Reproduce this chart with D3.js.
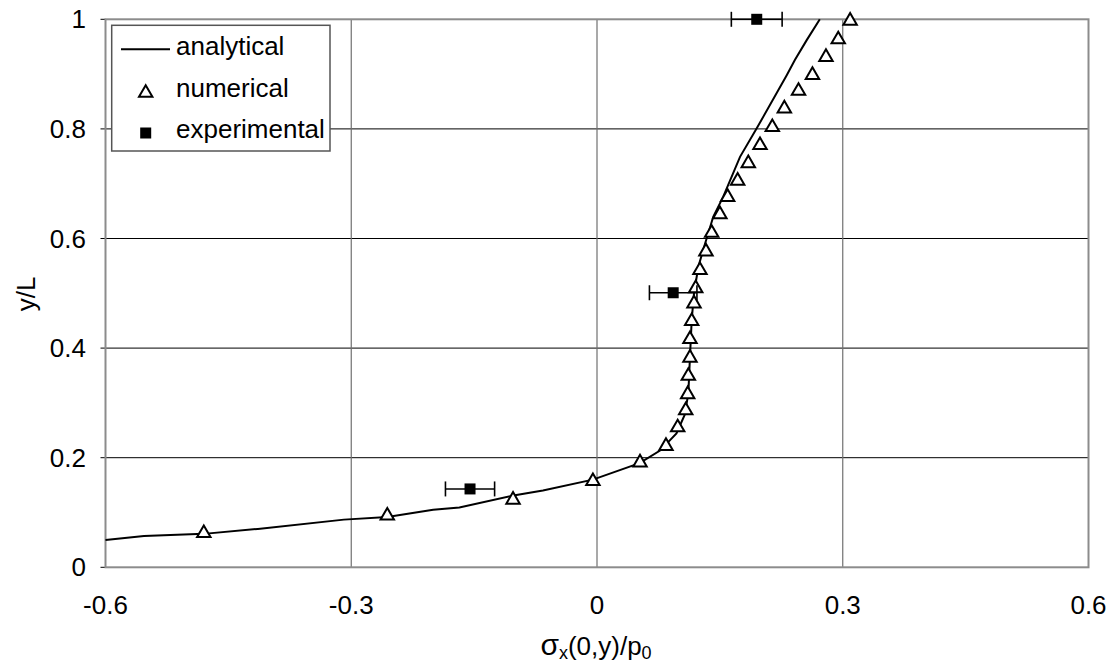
<!DOCTYPE html>
<html><head><meta charset="utf-8">
<script src="https://cdn.jsdelivr.net/npm/d3@7"></script>
<style>
html,body{margin:0;padding:0;background:#fff;}
svg text{font-family:"Liberation Sans",Arial,sans-serif;fill:#000;}
</style></head>
<body><svg id="c" width="1117" height="667"></svg>
<script>
// ---- data ----
const xTicks = [-0.6, -0.3, 0, 0.3, 0.6];
const xTickLabels = ["-0.6", "-0.3", "0", "0.3", "0.6"];
const yTicks = [0, 0.2, 0.4, 0.6, 0.8, 1];
const yTickLabels = ["0", "0.2", "0.4", "0.6", "0.8", "1"];

const analyticalX = [-0.6, -0.553, -0.48, -0.414, -0.309, -0.256, -0.2, -0.168, -0.102, -0.066, -0.005, 0.052, 0.077, 0.097, 0.107, 0.1115, 0.1135, 0.1156, 0.1184, 0.1237, 0.1318, 0.142, 0.154, 0.1746, 0.195, 0.2316, 0.2417, 0.256, 0.272];
const analyticalY = [0.050, 0.057, 0.061, 0.070, 0.087, 0.092, 0.105, 0.109, 0.131, 0.140, 0.160, 0.190, 0.213, 0.2445, 0.278, 0.3175, 0.384, 0.451, 0.500, 0.5485, 0.590, 0.640, 0.676, 0.749, 0.801, 0.898, 0.926, 0.962, 1.0];

const numericalX = [-0.48, -0.256, -0.1025, -0.005, 0.0525, 0.0842, 0.0985, 0.1083, 0.1107, 0.1115, 0.1135, 0.1135, 0.1156, 0.1184, 0.1205, 0.1257, 0.133, 0.140, 0.150, 0.1595, 0.1717, 0.1847, 0.199, 0.214, 0.2287, 0.246, 0.263, 0.2795, 0.2945, 0.309];
const numericalY = [0.064, 0.096, 0.125, 0.159, 0.193, 0.223, 0.257, 0.288, 0.3175, 0.351, 0.384, 0.418, 0.451, 0.483, 0.511, 0.544, 0.578, 0.612, 0.646, 0.6775, 0.707, 0.739, 0.772, 0.805, 0.839, 0.871, 0.900, 0.933, 0.965, 0.999];

const experimentalX = [-0.155, 0.093, 0.195];
const experimentalY = [0.143, 0.501, 1.0];
const experimentalErr = [0.03, 0.029, 0.031];

const legendLabels = ["analytical", "numerical", "experimental"];

// ---- layout ----
const svg = d3.select("#c");
const L = 105.5, R = 1088.5, T = 19.3, B = 567.3;
const x = d3.scaleLinear().domain([-0.6, 0.6]).range([L, R]);
const y = d3.scaleLinear().domain([0, 1]).range([B, T]);
const FS = 26;

// horizontal grid (black)
svg.append("g").selectAll("line").data(yTicks.slice(1, -1)).join("line")
  .attr("x1", L).attr("x2", R).attr("y1", d => y(d)).attr("y2", d => y(d))
  .attr("stroke", "#000").attr("stroke-width", 1);
// vertical grid (gray)
svg.append("g").selectAll("line").data(xTicks.slice(1, -1)).join("line")
  .attr("x1", d => x(d)).attr("x2", d => x(d)).attr("y1", T).attr("y2", B)
  .attr("stroke", "#707070").attr("stroke-width", 1.2);
// left ticks
svg.append("g").selectAll("line").data(yTicks).join("line")
  .attr("x1", L - 5).attr("x2", L).attr("y1", d => y(d)).attr("y2", d => y(d))
  .attr("stroke", "#000").attr("stroke-width", 1);
// plot border
svg.append("rect").attr("x", L).attr("y", T).attr("width", R - L).attr("height", B - T)
  .attr("fill", "none").attr("stroke", "#8c8c8c").attr("stroke-width", 2);

// tick labels
svg.append("g").selectAll("text").data(yTicks).join("text")
  .attr("x", 86).attr("y", d => y(d) + 9).attr("text-anchor", "end")
  .attr("font-size", FS).text((d, i) => yTickLabels[i]);
svg.append("g").selectAll("text").data(xTicks).join("text")
  .attr("x", d => x(d)).attr("y", 613.5).attr("text-anchor", "middle")
  .attr("font-size", FS).text((d, i) => xTickLabels[i]);

// axis titles
svg.append("text").attr("transform", "translate(35,294) rotate(-90)")
  .attr("text-anchor", "middle").attr("font-size", FS).text("y/L");
const xt = svg.append("text").attr("x", 596).attr("y", 655).attr("text-anchor", "middle").attr("font-size", FS);
xt.append("tspan").attr("font-size", 30).text("σ");
xt.append("tspan").attr("font-size", 18).attr("dy", 4).text("x");
xt.append("tspan").attr("dy", -4).text("(0,y)/p");
xt.append("tspan").attr("font-size", 18).attr("dy", 4).text("0");

// analytical line
const lineData = analyticalX.map((v, i) => [v, analyticalY[i]]);
svg.append("path").datum(lineData)
  .attr("d", d3.line().x(d => x(d[0])).y(d => y(d[1])))
  .attr("fill", "none").attr("stroke", "#000").attr("stroke-width", 2);

// triangles
const tri = d3.symbol().type(d3.symbolTriangle).size(78);
svg.append("g").selectAll("path").data(numericalX.map((v, i) => [v, numericalY[i]])).join("path")
  .attr("d", tri).attr("transform", d => `translate(${x(d[0])},${y(d[1]) + 1})`)
  .attr("fill", "#fff").attr("stroke", "#000").attr("stroke-width", 2);

// experimental with error bars
const ex = experimentalX.map((v, i) => ({ x: v, y: experimentalY[i], e: experimentalErr[i] }));
const eg = svg.append("g");
eg.selectAll("line.h").data(ex).join("line").attr("class", "h")
  .attr("x1", d => x(d.x - d.e)).attr("x2", d => x(d.x + d.e))
  .attr("y1", d => y(d.y)).attr("y2", d => y(d.y)).attr("stroke", "#000").attr("stroke-width", 1.6);
eg.selectAll("line.c1").data(ex).join("line").attr("class", "c1")
  .attr("x1", d => x(d.x - d.e)).attr("x2", d => x(d.x - d.e))
  .attr("y1", d => y(d.y) - 7.5).attr("y2", d => y(d.y) + 7.5).attr("stroke", "#000").attr("stroke-width", 1.6);
eg.selectAll("line.c2").data(ex).join("line").attr("class", "c2")
  .attr("x1", d => x(d.x + d.e)).attr("x2", d => x(d.x + d.e))
  .attr("y1", d => y(d.y) - 7.5).attr("y2", d => y(d.y) + 7.5).attr("stroke", "#000").attr("stroke-width", 1.6);
eg.selectAll("rect").data(ex).join("rect")
  .attr("x", d => x(d.x) - 5.5).attr("y", d => y(d.y) - 5.5).attr("width", 11).attr("height", 11)
  .attr("fill", "#000");

// legend
const lg = svg.append("g");
lg.append("rect").attr("x", 111.7).attr("y", 25.3).attr("width", 218.3).attr("height", 125.7)
  .attr("fill", "#fff").attr("stroke", "#555").attr("stroke-width", 1.5);
lg.append("line").attr("x1", 121).attr("x2", 170).attr("y1", 49.3).attr("y2", 49.3)
  .attr("stroke", "#000").attr("stroke-width", 2);
lg.append("path").attr("d", tri).attr("transform", "translate(145.7,93)")
  .attr("fill", "#fff").attr("stroke", "#000").attr("stroke-width", 2);
lg.append("rect").attr("x", 140.2).attr("y", 127.5).attr("width", 11).attr("height", 11).attr("fill", "#000");
lg.selectAll("text").data(legendLabels).join("text")
  .attr("x", 176).attr("y", (d, i) => 55 + i * 41.6).attr("font-size", FS).text(d => d);
</script></body></html>
